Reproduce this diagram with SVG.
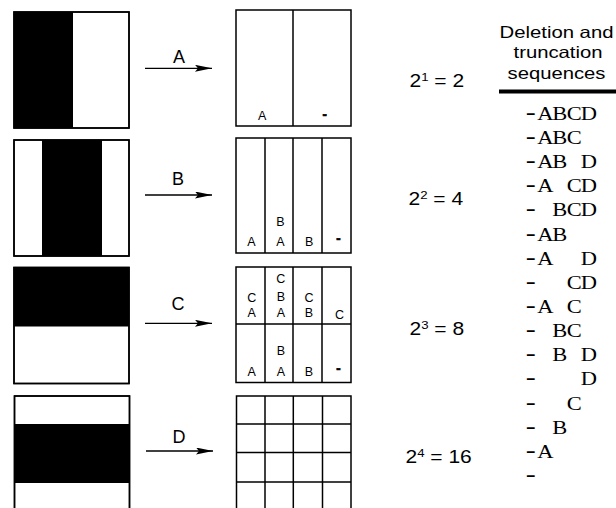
<svg xmlns="http://www.w3.org/2000/svg" width="616" height="508" viewBox="0 0 616 508">
  <style>
    .box { fill: #fff; stroke: #000; stroke-width: 1.5; }
    .frame { fill: none; stroke: #000; stroke-width: 1.5; }
    .fillblk { fill: #000; stroke: none; }
    .div { stroke: #000; stroke-width: 1.5; fill: none; }
    .conn { stroke: #000; stroke-width: 1.3; fill: none; }
    .lbl { font-family: "Liberation Sans", Arial, sans-serif; font-size: 18px; fill: #000; text-anchor: middle; }
    .cell { font-family: "Liberation Sans", Arial, sans-serif; font-size: 12.5px; fill: #000; text-anchor: middle; }
    .dash { font-family: "Liberation Sans", Arial, sans-serif; font-size: 13px; font-weight: bold; fill: #000; stroke: #000; stroke-width: 0.7; text-anchor: middle; }
    .eq { font-family: "Liberation Sans", Arial, sans-serif; font-size: 17.5px; fill: #000; }
    .sup { font-size: 11px; }
    .head { font-family: "Liberation Sans", Arial, sans-serif; font-size: 16.5px; fill: #000; text-anchor: middle; }
    .seq { font-family: "Liberation Serif", "Times New Roman", serif; font-size: 18px; fill: #000; text-anchor: middle; }
    .lead { font-size: 24px; }
  </style>
  <defs>
    <marker id="arrowhead" viewBox="0 0 17 7" refX="17" refY="3.5" markerWidth="17" markerHeight="7" markerUnits="userSpaceOnUse" orient="auto">
      <path d="M0,0 L17,3.5 L0,7 L3,3.5 Z" fill="#000"/>
    </marker>
  </defs>

  <rect width="616" height="508" fill="#fff"/>

  <!-- Source patterns -->
  <g id="pattern-A">
    <rect class="box" x="14" y="12" width="115" height="116"/>
    <rect class="fillblk" x="14" y="12" width="59" height="116"/>
    <rect class="frame" x="14" y="12" width="115" height="116"/>
  </g>
  <g id="pattern-B">
    <rect class="box" x="14" y="140" width="115" height="116"/>
    <rect class="fillblk" x="42" y="140" width="60" height="116"/>
    <rect class="frame" x="14" y="140" width="115" height="116"/>
  </g>
  <g id="pattern-C">
    <rect class="box" x="14" y="267.5" width="115" height="116"/>
    <rect class="fillblk" x="14" y="267.5" width="115" height="59"/>
    <rect class="frame" x="14" y="267.5" width="115" height="116"/>
  </g>
  <g id="pattern-D">
    <rect class="box" x="14.5" y="396" width="115" height="116"/>
    <rect class="fillblk" x="14.5" y="424" width="115" height="59"/>
    <rect class="frame" x="14.5" y="396" width="115" height="116"/>
  </g>

  <!-- Connectors -->
  <g id="connectors">
    <line class="conn" x1="145" y1="68.3" x2="212" y2="68.3" marker-end="url(#arrowhead)"/>
    <text class="lbl" x="179" y="63">A</text>
    <line class="conn" x1="145" y1="195" x2="212" y2="195" marker-end="url(#arrowhead)"/>
    <text class="lbl" x="178" y="185">B</text>
    <line class="conn" x1="145" y1="323.3" x2="212" y2="323.3" marker-end="url(#arrowhead)"/>
    <text class="lbl" x="178" y="310">C</text>
    <line class="conn" x1="146" y1="451" x2="213" y2="451" marker-end="url(#arrowhead)"/>
    <text class="lbl" x="179" y="442.7">D</text>
  </g>

  <!-- Resulting grids -->
  <g id="grid-A">
    <rect class="box" x="236" y="10" width="115" height="116"/>
    <line class="div" x1="293" y1="10" x2="293" y2="126"/>
    <text class="cell" x="262.2" y="120">A</text>
    <text class="dash" x="324.7" y="118.5">-</text>
  </g>
  <g id="grid-B">
    <rect class="box" x="236" y="138" width="115" height="115"/>
    <line class="div" x1="265" y1="138" x2="265" y2="253"/>
    <line class="div" x1="293" y1="138" x2="293" y2="253"/>
    <line class="div" x1="322" y1="138" x2="322" y2="253"/>
    <text class="cell" x="251.3" y="245.7">A</text>
    <text class="cell" x="280.3" y="225.7">B</text>
    <text class="cell" x="280.3" y="245.7">A</text>
    <text class="cell" x="309.2" y="245.7">B</text>
    <text class="dash" x="338.3" y="243.3">-</text>
  </g>
  <g id="grid-C">
    <rect class="box" x="236" y="267" width="115" height="115.5"/>
    <line class="div" x1="265" y1="267" x2="265" y2="382.5"/>
    <line class="div" x1="293" y1="267" x2="293" y2="382.5"/>
    <line class="div" x1="322" y1="267" x2="322" y2="382.5"/>
    <line class="div" x1="236" y1="324" x2="351" y2="324"/>
    <text class="cell" x="251.7" y="301.7">C</text>
    <text class="cell" x="251.7" y="317.3">A</text>
    <text class="cell" x="280.8" y="283.3">C</text>
    <text class="cell" x="280.8" y="300.7">B</text>
    <text class="cell" x="280.8" y="316.7">A</text>
    <text class="cell" x="309" y="301.7">C</text>
    <text class="cell" x="309" y="317.3">B</text>
    <text class="cell" x="339.5" y="319">C</text>
    <text class="cell" x="251.7" y="375.7">A</text>
    <text class="cell" x="280.8" y="355">B</text>
    <text class="cell" x="280.8" y="375.7">A</text>
    <text class="cell" x="309" y="375.7">B</text>
    <text class="dash" x="338.3" y="372.6">-</text>
  </g>
  <g id="grid-D">
    <rect class="box" x="236.5" y="396" width="114.5" height="115"/>
    <line class="div" x1="265" y1="396" x2="265" y2="511"/>
    <line class="div" x1="293.3" y1="396" x2="293.3" y2="511"/>
    <line class="div" x1="322.5" y1="396" x2="322.5" y2="511"/>
    <line class="div" x1="236.5" y1="424" x2="351" y2="424"/>
    <line class="div" x1="236.5" y1="452.5" x2="351" y2="452.5"/>
    <line class="div" x1="236.5" y1="482" x2="351" y2="482"/>
  </g>

  <!-- Counts -->
  <g id="counts">
    <text class="eq" transform="translate(409.5,86.7) scale(1.2,1)">2<tspan class="sup" dy="-6">1</tspan><tspan dy="6"> = 2</tspan></text>
    <text class="eq" transform="translate(408.5,205) scale(1.2,1)">2<tspan class="sup" dy="-6">2</tspan><tspan dy="6"> = 4</tspan></text>
    <text class="eq" transform="translate(409.5,335) scale(1.2,1)">2<tspan class="sup" dy="-6">3</tspan><tspan dy="6"> = 8</tspan></text>
    <text class="eq" transform="translate(405.5,463) scale(1.2,1)">2<tspan class="sup" dy="-6">4</tspan><tspan dy="6"> = 16</tspan></text>
  </g>

  <!-- Column header -->
  <g id="header">
    <text class="head" x="556.5" y="37.7" textLength="114" lengthAdjust="spacingAndGlyphs">Deletion and</text>
    <text class="head" x="558" y="58.3" textLength="89" lengthAdjust="spacingAndGlyphs">truncation</text>
    <text class="head" x="556.5" y="79" textLength="98" lengthAdjust="spacingAndGlyphs">sequences</text>
    <line x1="499" y1="91.5" x2="616" y2="91.5" stroke="#000" stroke-width="4"/>
  </g>

  <!-- Sequence list: fixed columns (dash, A, B, C, D) every 11.6 local units, widened 1.25x -->
  <g id="sequences" transform="scale(1.25,1)">
    <text class="seq" x="424.6 436.2 447.8 459.4 471" y="120"><tspan class="lead">-</tspan>ABCD</text>
    <text class="seq" x="424.6 436.2 447.8 459.4" y="144.1"><tspan class="lead">-</tspan>ABC</text>
    <text class="seq" x="424.6 436.2 447.8 471" y="168.3"><tspan class="lead">-</tspan>ABD</text>
    <text class="seq" x="424.6 436.2 459.4 471" y="192.4"><tspan class="lead">-</tspan>ACD</text>
    <text class="seq" x="424.6 447.8 459.4 471" y="216.5"><tspan class="lead">-</tspan>BCD</text>
    <text class="seq" x="424.6 436.2 447.8" y="240.7"><tspan class="lead">-</tspan>AB</text>
    <text class="seq" x="424.6 436.2 471" y="264.8"><tspan class="lead">-</tspan>AD</text>
    <text class="seq" x="424.6 459.4 471" y="288.9"><tspan class="lead">-</tspan>CD</text>
    <text class="seq" x="424.6 436.2 459.4" y="313"><tspan class="lead">-</tspan>AC</text>
    <text class="seq" x="424.6 447.8 459.4" y="337.2"><tspan class="lead">-</tspan>BC</text>
    <text class="seq" x="424.6 447.8 471" y="361.3"><tspan class="lead">-</tspan>BD</text>
    <text class="seq" x="424.6 471" y="385.4"><tspan class="lead">-</tspan>D</text>
    <text class="seq" x="424.6 459.4" y="409.6"><tspan class="lead">-</tspan>C</text>
    <text class="seq" x="424.6 447.8" y="433.7"><tspan class="lead">-</tspan>B</text>
    <text class="seq" x="424.6 436.2" y="457.8"><tspan class="lead">-</tspan>A</text>
    <text class="seq" x="424.6" y="482"><tspan class="lead">-</tspan></text>
  </g>
</svg>
